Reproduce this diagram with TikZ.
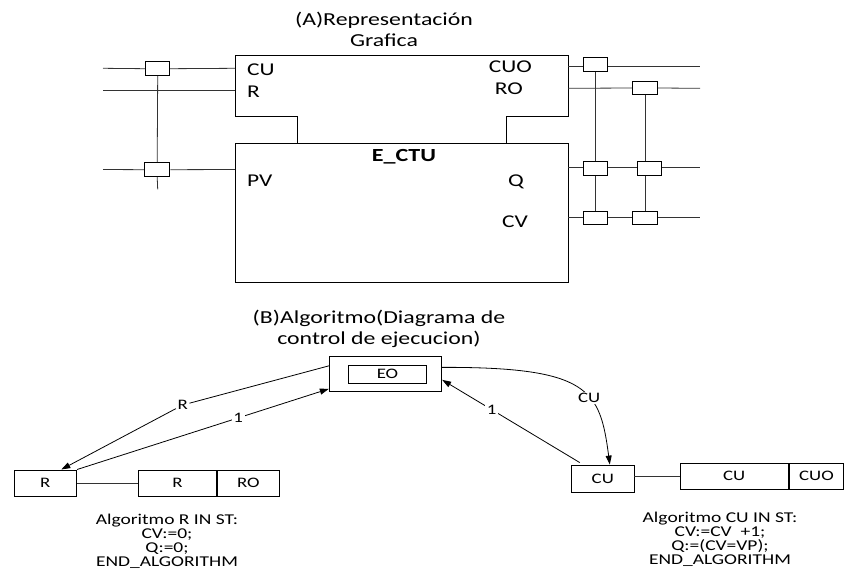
\documentclass[tikz,border=0pt]{standalone}
\usepackage{fontspec}
\setmainfont{Carlito}[FakeStretch=1.3]
\usetikzlibrary{arrows.meta}
\begin{document}
\begin{tikzpicture}[x=1pt,y=-1pt,
  wire/.style={line width=0.8pt, draw=black!80},
  body/.style={line width=1pt, draw=black},
  tap/.style={draw, line width=1pt, fill=white, minimum width=24pt, minimum height=14pt, inner sep=0pt},
  pin/.style={inner sep=0pt, font=\fontsize{18}{18}\selectfont},
  ttl/.style={align=center, font=\fontsize{18.3}{21}\selectfont},
  stbox/.style={draw, line width=0.9pt, inner sep=0pt, font=\fontsize{14.5}{14.5}\selectfont},
  arr/.style={line width=0.8pt, -{Triangle[length=9pt,width=6pt]}},
  lbl/.style={inner sep=1.5pt, fill=white, font=\fontsize{14.5}{14.5}\selectfont},
  alg/.style={align=center, inner sep=0pt, font=\fontsize{15}{14}\selectfont}]
\useasboundingbox (0,0) rectangle (845,570);

% ---------- (A) graphical representation ----------
\node[ttl] (titleA) at (384,29) {(A)Representación\\Grafica};

% upper (event) part of the block
\draw[body] (297.7,143.3) -- (297.7,116.7) -- (235,116.7) -- (235,55) -- (568,55) -- (568,116.7) -- (506,116.7) -- (506,143.3);
% lower (data) part of the block
\node[body, draw, minimum width=333.3pt, minimum height=139.4pt, inner sep=0pt] (blk) at (401.65,213) {};
\node[font=\fontsize{18.5}{18.5}\selectfont\bfseries, inner sep=0pt] (name) at (404,156.5) {E\_CTU};

% pin labels
\node[pin, anchor=west] (pCU) at (247,69.5) {CU};
\node[pin, anchor=west] (pR) at (247,92) {R};
\node[pin, anchor=west] (pPV) at (247,181) {PV};
\node[pin, anchor=east] (pCUO) at (532,66.5) {CUO};
\node[pin, anchor=east] (pRO) at (523,88.5) {RO};
\node[pin, anchor=east] (pQ) at (524,181.5) {Q};
\node[pin, anchor=east] (pCV) at (528,222) {CV};

% input side
\coordinate (inCU) at (103,68.3);  \coordinate (inCUb) at (235,68.3);
\coordinate (inR) at (103,90);     \coordinate (inRb) at (235,90);
\coordinate (inPV) at (103,169.5); \coordinate (inPVb) at (235,169.5);
\coordinate (inTail) at (157.7,189.3);
\node[tap] (wCU) at (157.7,68.7) {};
\node[tap, minimum width=25.5pt] (wPV) at (157.2,169.7) {};
\draw[wire] (inCU) -- (wCU.west);
\draw[wire] (wCU.east) -- (inCUb);
\draw[wire] (inR) -- (inRb);
\draw[wire] (inPV) -- (wPV.west);
\draw[wire] (wPV.east) -- (inPVb);
\draw[wire] (wCU.south) -- (wPV.north);
\draw[wire] (wPV.south) -- (inTail);

% output side
\coordinate (oCUa) at (568,66);    \coordinate (oCUb) at (700,66);
\coordinate (oROa) at (568,88.3);  \coordinate (oROb) at (700,88.3);
\coordinate (oQa) at (568,167.5);  \coordinate (oQb) at (700,167.5);
\coordinate (oCVa) at (568,217.5); \coordinate (oCVb) at (700,217.5);
\node[tap] (wCUO) at (595.3,64) {};
\node[tap, minimum width=24.6pt, minimum height=12.6pt] (wRO) at (645,88) {};
\node[tap, minimum height=14.3pt] (wQ1) at (595.3,168.8) {};
\node[tap, minimum height=13.7pt] (wQ2) at (649.3,168.3) {};
\node[tap, minimum height=13.3pt] (wCV1) at (595.3,218.3) {};
\node[tap, minimum width=24.6pt, minimum height=13.3pt] (wCV2) at (645,218.3) {};
\draw[wire] (oCUa) -- (oCUa -| wCUO.west);
\draw[wire] (oCUb -| wCUO.east) -- (oCUb);
\draw[wire] (oROa) -- (wRO.west);
\draw[wire] (wRO.east) -- (oROb);
\draw[wire] (oQa) -- (oQa -| wQ1.west);
\draw[wire] (oQa -| wQ1.east) -- (oQa -| wQ2.west);
\draw[wire] (oQa -| wQ2.east) -- (oQb);
\draw[wire] (oCVa) -- (oCVa -| wCV1.west);
\draw[wire] (oCVa -| wCV1.east) -- (oCVa -| wCV2.west);
\draw[wire] (oCVa -| wCV2.east) -- (oCVb);
\draw[wire] (wCUO.south) -- (wCUO.south |- wQ1.north);
\draw[wire] (wQ1.south) -- (wQ1.south |- wCV1.north);
\draw[wire] (wRO.south) -- (wRO.south |- wQ2.north);
\draw[wire] (wRO.south |- wQ2.south) -- (wCV2.north);

% ---------- (B) execution control chart ----------
\node[ttl] (titleB) at (379,329) {(B)Algoritmo(Diagrama de\\control de ejecucion)};

\node[draw, line width=0.9pt, minimum width=112.4pt, minimum height=35.7pt, inner sep=0pt] (E0) at (385.5,373.85) {};
\node[stbox, minimum width=78.4pt, minimum height=18.3pt] (E0in) at (387.5,374.2) {EO};

\node[stbox, minimum width=62.7pt, minimum height=26.7pt] (sR) at (45.3,483.3) {R};
\node[stbox, minimum width=78.4pt, minimum height=26.7pt] (aR) at (177.5,483.3) {R};
\node[stbox, minimum width=61.6pt, minimum height=26.7pt, anchor=west] (aRO) at (aR.east) {RO};
\draw[wire] (sR.east) -- (aR.west);

\node[stbox, minimum width=62.3pt, minimum height=27.3pt] (sCU) at (602.8,478.7) {CU};
\node[stbox, minimum width=108.3pt, minimum height=26pt] (aCU) at (734.2,476.3) {CU};
\node[stbox, minimum width=54.5pt, minimum height=26pt, anchor=west] (aCUO) at (aCU.east) {CUO};
\draw[wire] (sCU.east |- aCU.west) -- (aCU.west);

% transitions
\node[lbl] (tR) at (182.7,405) {R};
\draw[line width=0.8pt] ([yshift=8pt]E0.west) -- (tR);
\draw[arr] (tR) -- ([xshift=16pt]sR.north);
\draw[arr] (sR.north east) -- node[lbl, pos=0.64] (t1a) {1} ([yshift=-15pt]E0.west);
\draw[arr] ([yshift=6.5pt]E0.east) .. controls (590,367) and (600,390) .. ([xshift=7pt]sCU.north) node[lbl, pos=0.6] (tCU) {CU};
\draw[arr] ([xshift=-23pt,yshift=2pt]sCU.north) -- node[lbl, pos=0.64] (t1b) {1} ([yshift=-6pt]E0.east);

% algorithm texts
\node[alg] (algR) at (167,541) {Algoritmo R IN ST:\\CV:=0;\\Q:=0;\\END\_ALGORITHM};
\node[alg] (algCU) at (720,539) {Algoritmo CU IN ST:\\CV:=CV~~+1;\\Q:=(CV=VP);\\END\_ALGORITHM};
\end{tikzpicture}
\end{document}
